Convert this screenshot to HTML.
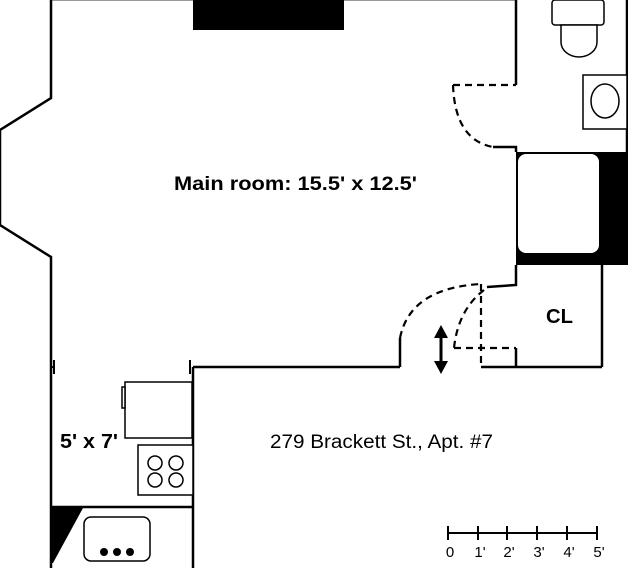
<!DOCTYPE html>
<html><head><meta charset="utf-8"><style>
html,body{margin:0;padding:0;background:#fff;}
svg{display:block;}
text{font-family:"Liberation Sans",Arial,sans-serif;fill:#000;}
</style></head><body>
<svg width="628" height="568" viewBox="0 0 628 568" xmlns="http://www.w3.org/2000/svg">
<rect x="0" y="0" width="628" height="568" fill="#fff"/>
<line x1="51" y1="0.5" x2="516" y2="0.5" stroke="#999" stroke-width="1"/>
<g stroke="#000" stroke-width="2.5" fill="none">
<polyline points="51,0 51,98 0,130 0,225 51,257 51,568"/>
<line x1="193" y1="367" x2="400" y2="367"/>
<line x1="193" y1="367" x2="193" y2="568"/>
<polyline points="400,367 400,338"/>
<polyline points="487,287 516,285 516,265"/>
<polyline points="516,348 516,367"/>
<line x1="481" y1="367" x2="602" y2="367"/>
<line x1="602" y1="265" x2="602" y2="367"/>
<polyline points="516,0 516,85"/>
<polyline points="493,147 516,147 516,152"/>
<line x1="627" y1="0" x2="627" y2="152"/>
<line x1="51" y1="507" x2="193" y2="507"/>
</g>
<g stroke="#000" stroke-width="2" fill="none">
<line x1="54" y1="360" x2="54" y2="374"/>
<line x1="190" y1="360" x2="190" y2="374"/>
<line x1="51" y1="367" x2="54" y2="367"/>
</g>
<g stroke="#000" stroke-width="2.2" fill="none" stroke-dasharray="7,5">
<line x1="453" y1="85" x2="516" y2="85"/>
<path d="M453,85 Q455,140 493,147"/>
<path d="M400,338 Q410,288 481,284"/>
<line x1="481" y1="284" x2="481" y2="367"/>
<path d="M484,290 Q458,310 454,348"/>
<line x1="454" y1="348" x2="516" y2="348"/>
</g>
<rect x="193" y="0" width="151" height="30" fill="#000"/>
<rect x="516" y="152" width="112" height="113" fill="#000"/>
<rect x="518" y="154" width="81" height="99" rx="8" fill="#fff"/>
<g stroke="#000" stroke-width="1.5" fill="#fff">
<rect x="552" y="0" width="52" height="25" rx="3"/>
<path d="M561,25 L561,42 A18,15 0 0 0 597,42 L597,25 Z"/>
<rect x="583" y="75" width="44" height="54"/>
<ellipse cx="605" cy="101" rx="14" ry="17"/>
<rect x="125" y="382" width="67" height="56"/>
<rect x="122" y="387" width="3" height="21"/>
<rect x="138" y="445" width="55" height="50"/>
<circle cx="155" cy="463" r="7"/><circle cx="176" cy="463" r="7"/>
<circle cx="155" cy="480" r="7"/><circle cx="176" cy="480" r="7"/>
<rect x="84" y="517" width="66" height="44" rx="7"/>
</g>
<polygon points="51,508 83,508 53,563 51,563" fill="#000"/>
<circle cx="104" cy="552" r="4" fill="#000"/><circle cx="117" cy="552" r="4" fill="#000"/><circle cx="130" cy="552" r="4" fill="#000"/>
<line x1="441" y1="334" x2="441" y2="366" stroke="#000" stroke-width="3"/>
<polygon points="441,325 434,338 448,338" fill="#000"/>
<polygon points="441,374 434,361 448,361" fill="#000"/>
<g stroke="#000" stroke-width="2">
<line x1="448" y1="533" x2="597" y2="533"/>
<line x1="448" y1="526" x2="448" y2="540"/><line x1="478" y1="526" x2="478" y2="540"/>
<line x1="507" y1="526" x2="507" y2="540"/><line x1="537" y1="526" x2="537" y2="540"/>
<line x1="567" y1="526" x2="567" y2="540"/><line x1="597" y1="526" x2="597" y2="540"/>
</g>
<g font-size="15" text-anchor="middle">
<text x="450" y="557">0</text><text x="480" y="557">1'</text><text x="509" y="557">2'</text>
<text x="539" y="557">3'</text><text x="569" y="557">4'</text><text x="599" y="557">5'</text>
</g>
<text x="174" y="190" font-size="19" font-weight="bold" textLength="243" lengthAdjust="spacingAndGlyphs">Main room: 15.5' x 12.5'</text>
<text x="546" y="323" font-size="20" font-weight="bold" textLength="27" lengthAdjust="spacingAndGlyphs">CL</text>
<text x="60" y="448" font-size="20" font-weight="bold" textLength="58" lengthAdjust="spacingAndGlyphs">5' x 7'</text>
<text x="270" y="448" font-size="19" textLength="223" lengthAdjust="spacingAndGlyphs">279 Brackett St., Apt. #7</text>
</svg>
</body></html>
